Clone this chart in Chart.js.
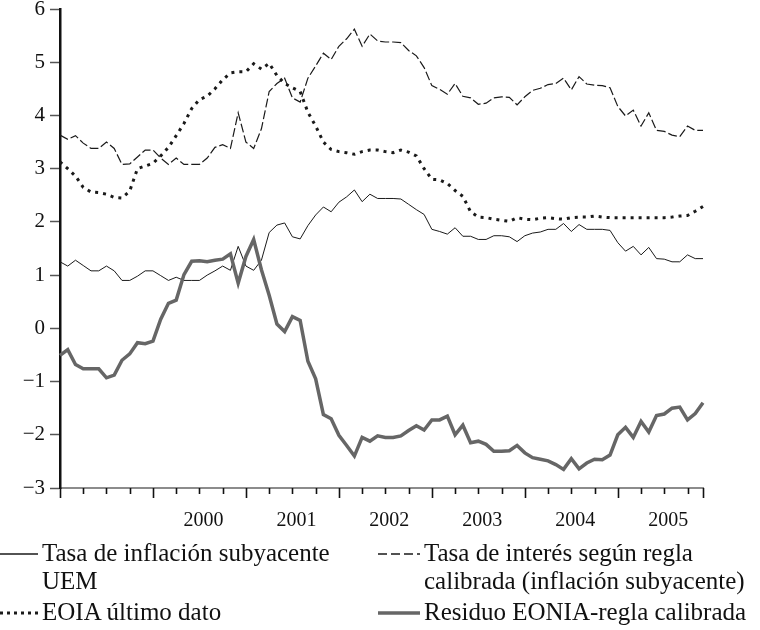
<!DOCTYPE html>
<html>
<head>
<meta charset="utf-8">
<script src="https://cdn.jsdelivr.net/npm/chart.js@4.4.1/dist/chart.umd.min.js"></script>
<style>
  html, body { margin: 0; padding: 0; background: #fff; }
  #wrap { position: relative; width: 760px; height: 630px; overflow: hidden;
          font-family: "Liberation Serif", "DejaVu Serif", serif; color: #111; }
  #chart { position: absolute; left: 0; top: 0; }
  .leg { position: absolute; font-size: 25px; line-height: 28px; white-space: nowrap; }
  .leg svg { position: absolute; }
</style>
</head>
<body>
<div id="wrap">
  <canvas id="chart" width="760" height="540"></canvas>
  <div id="legend"></div>
</div>
<script>
// Serie mensual ene-1999 .. dic-2005 (%)

const years = ['1999', '2000', '2001', '2002', '2003', '2004', '2005'];
const months = ['01', '02', '03', '04', '05', '06', '07', '08', '09', '10', '11', '12'];
const yearLabels = ['2000', '2001', '2002', '2003', '2004', '2005'];  // rotulados a mitad de año

const inflacion = [
  1.25, 1.17, 1.28, 1.18, 1.08, 1.08, 1.17, 1.08, 0.90, 0.90, 0.98, 1.08,
  1.08, 0.99, 0.90, 0.96, 0.90, 0.90, 0.90, 1.00, 1.08, 1.17, 1.09, 1.54,
  1.17, 1.09, 1.28, 1.80, 1.94, 1.98, 1.72, 1.68, 1.93, 2.13, 2.28, 2.19,
  2.37, 2.47, 2.60, 2.38, 2.52, 2.44, 2.44, 2.44, 2.43, 2.33, 2.23, 2.14,
  1.86, 1.82, 1.77, 1.89, 1.73, 1.73, 1.67, 1.67, 1.74, 1.74, 1.72, 1.63,
  1.74, 1.79, 1.81, 1.86, 1.86, 1.97, 1.82, 1.95, 1.86, 1.86, 1.86, 1.84,
  1.61, 1.45, 1.54, 1.38, 1.52, 1.31, 1.30, 1.25, 1.25, 1.38, 1.31, 1.31,
];

const reglaCalibrada = [
  3.63, 3.55, 3.62, 3.48, 3.38, 3.38, 3.50, 3.38, 3.08, 3.09, 3.22, 3.35,
  3.35, 3.20, 3.08, 3.20, 3.08, 3.08, 3.08, 3.20, 3.40, 3.45, 3.38, 4.05,
  3.50, 3.38, 3.75, 4.45, 4.60, 4.70, 4.33, 4.25, 4.70, 4.93, 5.17, 5.05,
  5.30, 5.44, 5.62, 5.30, 5.53, 5.40, 5.38, 5.38, 5.37, 5.22, 5.12, 4.90,
  4.56, 4.49, 4.40, 4.60, 4.36, 4.33, 4.21, 4.23, 4.33, 4.35, 4.34, 4.20,
  4.35, 4.47, 4.51, 4.58, 4.60, 4.70, 4.48, 4.73, 4.59, 4.57, 4.56, 4.52,
  4.17, 3.99, 4.10, 3.80, 4.05, 3.72, 3.70, 3.63, 3.60, 3.80, 3.72, 3.72,
];

const eonia = [
  3.13, 3.00, 2.86, 2.65, 2.56, 2.55, 2.52, 2.46, 2.45, 2.58, 3.00, 3.05,
  3.10, 3.24, 3.40, 3.62, 3.85, 4.13, 4.30, 4.36, 4.50, 4.67, 4.80, 4.82,
  4.82, 4.97, 4.87, 4.98, 4.75, 4.60, 4.52, 4.45, 4.06, 3.80, 3.50, 3.36,
  3.32, 3.30, 3.27, 3.32, 3.35, 3.35, 3.32, 3.30, 3.35, 3.31, 3.24, 3.00,
  2.80, 2.79, 2.72, 2.59, 2.48, 2.19, 2.09, 2.08, 2.05, 2.03, 2.01, 2.08,
  2.05, 2.04, 2.07, 2.08, 2.06, 2.05, 2.08, 2.09, 2.09, 2.11, 2.09, 2.08,
  2.08, 2.08, 2.08, 2.08, 2.08, 2.08, 2.08, 2.09, 2.11, 2.12, 2.20, 2.29,
];

const residuo = [
  -0.51, -0.40, -0.68, -0.76, -0.76, -0.76, -0.93, -0.88, -0.60, -0.48, -0.27, -0.29,
  -0.24,  0.17,  0.47,  0.53,  1.01,  1.26,  1.27,  1.25,  1.28,  1.30,  1.40,  0.85,
   1.35,  1.67,  1.10,  0.62,  0.08, -0.06,  0.22,  0.15, -0.62, -0.95, -1.62, -1.70,
  -2.01, -2.20, -2.40, -2.05, -2.12, -2.02, -2.05, -2.05, -2.02, -1.92, -1.83, -1.91,
  -1.72, -1.72, -1.65, -2.00, -1.82, -2.15, -2.12, -2.18, -2.31, -2.31, -2.30, -2.20,
  -2.34, -2.43, -2.46, -2.49, -2.56, -2.65, -2.45, -2.64, -2.53, -2.46, -2.47, -2.38,
  -2.00, -1.86, -2.05, -1.75, -1.95, -1.64, -1.61, -1.50, -1.48, -1.72, -1.60, -1.40,
];

const yTicks = [-3, -2, -1, 0, 1, 2, 3, 4, 5, 6];

// etiquetas de leyenda, ya partidas en líneas como en el original
const nombreInflacion = ['Tasa de inflación subyacente', 'UEM'];
const nombreRegla     = ['Tasa de interés según regla', 'calibrada (inflación subyacente)'];
const nombreEonia     = ['EOIA último dato'];
const nombreResiduo   = ['Residuo EONIA-regla calibrada'];

const labels = [];
years.forEach(y => months.forEach(m => labels.push(y + '-' + m)));

const FONT = "'Liberation Serif', 'DejaVu Serif', serif";

/** marcas del eje X: trimestrales, más largas en enero */
const xTickMarks = {
  id: 'xTickMarks',
  afterDraw(chart) {
    const sx = chart.scales.x;
    const base = chart.chartArea.bottom;
    const ctx = chart.ctx;
    ctx.save();
    ctx.strokeStyle = '#111';
    ctx.lineWidth = 1.6;
    sx.ticks.forEach(t => {
      const lab = labels[t.value];
      const isLong = lab.endsWith('-01') || t.value === labels.length - 1;
      const px = Math.round(sx.getPixelForValue(t.value)) + 0.5;
      ctx.beginPath();
      ctx.moveTo(px, base);
      ctx.lineTo(px, base + (isLong ? 10 : 6));
      ctx.stroke();
    });
    ctx.restore();
  },
};

new Chart(document.getElementById('chart'), {
  type: 'line',
  data: {
    labels,
    datasets: [
      { label: nombreResiduo.join(' '), data: residuo, borderColor: '#666666',
        borderWidth: 3.5, order: 0 },
      { label: nombreInflacion.join(' '), data: inflacion, borderColor: '#1a1a1a',
        borderWidth: 1, order: 1 },
      { label: nombreRegla.join(' '), data: reglaCalibrada, borderColor: '#1a1a1a',
        borderWidth: 1.2, borderDash: [9, 3], order: 1 },
      { label: nombreEonia.join(' '), data: eonia, borderColor: '#1a1a1a',
        borderWidth: 3, borderDash: [3, 5], order: 1 },
    ],
  },
  options: {
    responsive: false,
    animation: false,
    elements: { point: { radius: 0 }, line: { tension: 0, borderCapStyle: 'butt' } },
    layout: { padding: { left: 0, right: 57, top: 9, bottom: 0 } },
    plugins: { legend: { display: false }, tooltip: { enabled: false } },
    scales: {
      x: {
        type: 'category',
        offset: false,
        grid: { display: false, drawTicks: false },
        border: { display: true, color: '#8c8c8c', width: 2 },
        afterBuildTicks: s => {
          s.ticks = s.ticks.filter(t => t.value % 3 === 0 || t.value === labels.length - 1);
        },
        afterFit: s => { s.height = 52; s.paddingLeft = 0; s.paddingRight = 0; },
        ticks: {
          autoSkip: false,
          maxRotation: 0,
          padding: 21,
          labelOffset: 4,
          color: '#111',
          font: { family: FONT, size: 20 },
          callback(v) {
            const lab = labels[v];
            const y = lab.slice(0, 4);
            return lab.endsWith('-07') && yearLabels.includes(y) ? y : '';
          },
        },
      },
      y: {
        min: -3,
        max: 6,
        afterBuildTicks: s => { s.ticks = yTicks.map(v => ({ value: v })); },
        // sin relleno extra arriba/abajo: el área útil empieza justo en padding.top
        afterFit: s => { s.width = 60; s.paddingTop = 0; s.paddingBottom = 0; },
        grid: { drawOnChartArea: false, drawTicks: true, tickLength: 10, tickColor: '#555', tickWidth: 1.5 },
        border: { display: true, color: '#111', width: 2.5 },
        ticks: {
          padding: 5,
          color: '#111',
          font: { family: FONT, size: 21 },
          callback: v => (v < 0 ? '\u2212' + Math.abs(v) : String(v)),
        },
      },
    },
  },
  plugins: [xTickMarks],
});

// leyenda en HTML, dos columnas como en el original
const legendItems = [
  { lines: nombreInflacion, left: 0,   top: 539, sample: { w: 38, color: '#1a1a1a', width: 1.6, dash: '' } },
  { lines: nombreEonia,     left: 0,   top: 598, sample: { w: 38, color: '#1a1a1a', width: 3,   dash: '3 4' } },
  { lines: nombreRegla,     left: 378, top: 539, sample: { w: 42, color: '#1a1a1a', width: 1.6, dash: '9 4' } },
  { lines: nombreResiduo,   left: 378, top: 598, sample: { w: 42, color: '#666666', width: 3.5, dash: '' } },
];

const legendBox = document.getElementById('legend');
legendItems.forEach(it => {
  const div = document.createElement('div');
  div.className = 'leg';
  div.style.left = it.left + 'px';
  div.style.top = it.top + 'px';
  const s = it.sample;
  div.innerHTML =
    `<svg width="${s.w}" height="28" style="left:0;top:0">` +
    `<line x1="0" y1="15" x2="${s.w}" y2="15" stroke="${s.color}" stroke-width="${s.width}"` +
    (s.dash ? ` stroke-dasharray="${s.dash}"` : '') + `/></svg>` +
    `<div style="margin-left:${s.w + 4}px">${it.lines.join('<br>')}</div>`;
  legendBox.appendChild(div);
});
</script>
</body>
</html>
